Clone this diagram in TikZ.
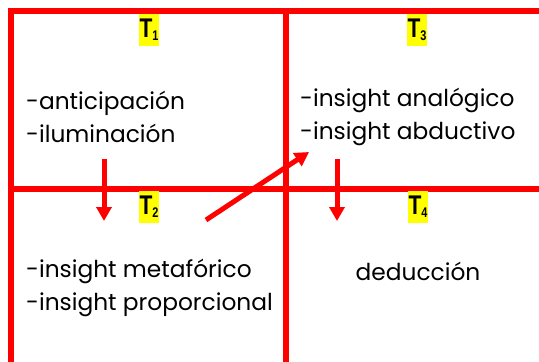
\documentclass[tikz,border=0pt]{standalone}
\usepackage{fontspec}
\setmainfont{Poppins}
\newfontfamily\tagfont{Liberation Sans}
\usetikzlibrary{arrows.meta}
\definecolor{gridred}{RGB}{255,0,0}
\definecolor{tagyellow}{RGB}{255,255,0}
\newcommand{\tnum}[1]{\scalebox{0.78}[1]{T\raisebox{-0.2ex}{\fontsize{14}{14}\selectfont #1}}}
\begin{document}
\begin{tikzpicture}[
    x=1pt, y=-1pt,
    every node/.style={font=\fontsize{23.3}{32.7}\selectfont},
    grid/.style={gridred, line width=6pt},
    tag/.style={fill=tagyellow, inner sep=0pt, minimum width=20pt, minimum height=32pt, font=\fontsize{27}{27}\selectfont\tagfont\bfseries},
    txt/.style={align=left, anchor=west, inner sep=0pt},
    flow/.style={gridred, line width=5pt, -{Triangle[width=15pt,length=14pt]}}
]
\useasboundingbox (0,0) rectangle (539,362);

% grid
\draw[grid] (11,8) -- (11,362);
\draw[grid] (8,11) -- (539,11);
\draw[grid] (286,8) -- (286,362);
\draw[grid] (8,189) -- (539,189);

% tags
\node[tag] (t1) at (149,30) {\tnum{1}};
\node[tag] (t3) at (417,30) {\tnum{3}};
\node[tag] (t2) at (149,207) {\tnum{2}};
\node[tag] (t4) at (418,207) {\tnum{4}};

% texts
\node[txt] (a) at (26,117) {-anticipación\\-iluminación};
\node[txt] (b) at (300,117) {-insight analógico\\-insight abductivo};
\node[txt] (c) at (26,288) {-insight metafórico\\-insight proporcional};
\node[inner sep=0pt] (d) at (418,271) {deducción};

% arrows
\coordinate (a1) at (104,159); \coordinate (a2) at (104,221);
\coordinate (b1) at (337,159); \coordinate (b2) at (337,221);
\coordinate (c1) at (206,220); \coordinate (c2) at (309,152);
\draw[flow] (a1) -- (a2);
\draw[flow] (b1) -- (b2);
\draw[flow] (c1) -- (c2);
\end{tikzpicture}
\end{document}
